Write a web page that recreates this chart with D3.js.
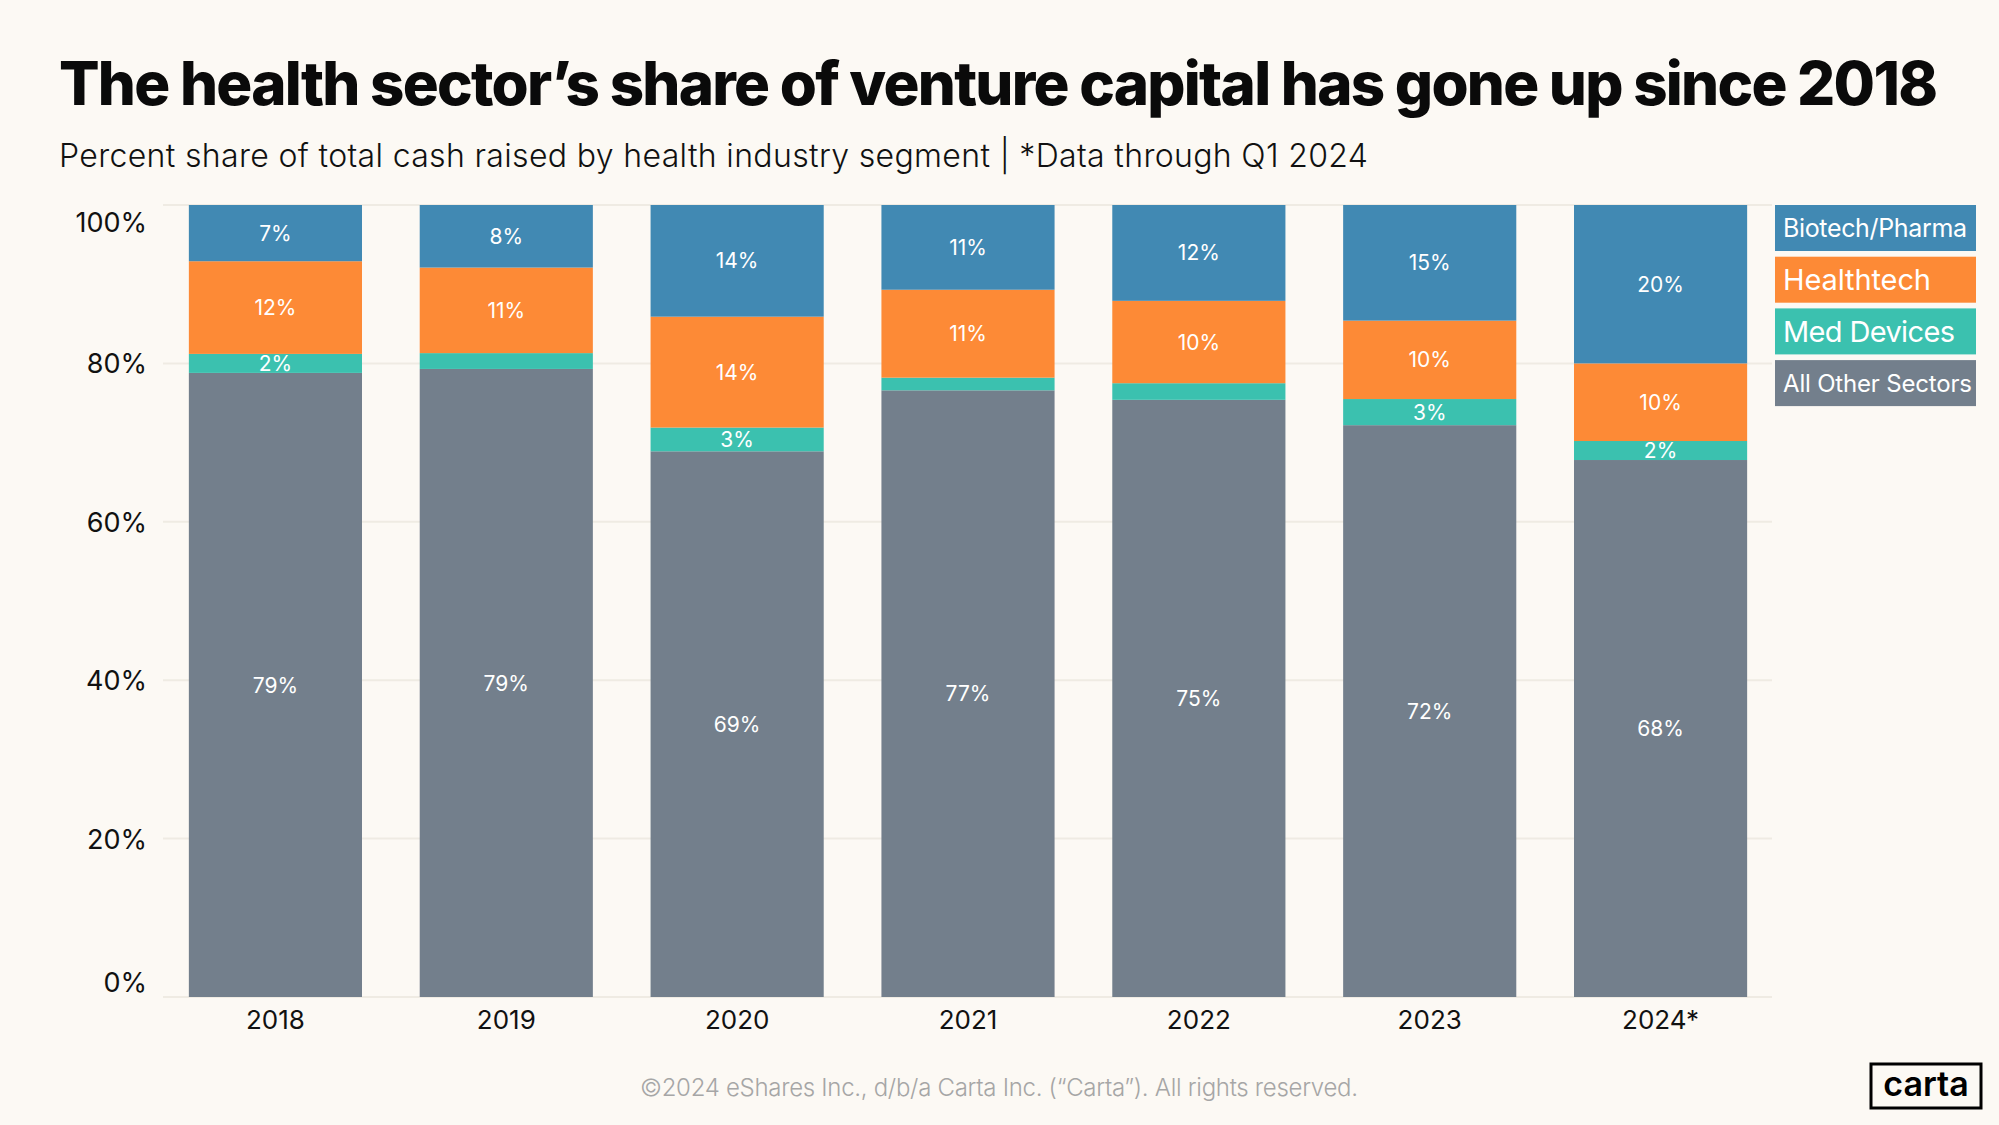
<!DOCTYPE html>
<html><head><meta charset="utf-8">
<script src="https://cdn.jsdelivr.net/npm/d3@7"></script>
<style>
html,body{margin:0;padding:0;background:#fcf9f4;}
svg{display:block;}
</style></head>
<body>
<svg id="chart" width="1999" height="1125"></svg>
<script>
const years = ["2018","2019","2020","2021","2022","2023","2024*"];
const otherSectors = [78.8, 79.3, 68.9, 76.6, 75.4, 72.2, 67.8];
const medDevices   = [2.4, 2.0, 3.0, 1.6, 2.1, 3.3, 2.4];
const healthtech   = [11.7, 10.8, 14.0, 11.1, 10.4, 9.9, 9.8];
const biotech      = [7.1, 7.9, 14.1, 10.7, 12.1, 14.6, 20.0];
const seriesNames  = ["All Other Sectors","Med Devices","Healthtech","Biotech/Pharma"];
const yTicks = [0, 20, 40, 60, 80, 100];
const titleText = "The health sector’s share of venture capital has gone up since 2018";
const subtitleText = "Percent share of total cash raised by health industry segment | *Data through Q1 2024";
const footerText = "©2024 eShares Inc., d/b/a Carta Inc. (“Carta”). All rights reserved.";

const colors = {"All Other Sectors":"#737f8c","Med Devices":"#3bc1af","Healthtech":"#fd8a36","Biotech/Pharma":"#4189b3"};
const FONT = "Inter, Lato, 'Noto Sans', sans-serif";

const svg = d3.select("#chart");
svg.append("rect").attr("width",1999).attr("height",1125).attr("fill","#fcf9f4");

function fitSpacing(sel, target){
  const n = sel.text().length;
  const w = sel.node().getComputedTextLength();
  sel.attr("letter-spacing", ((target - w)/(n-1)).toFixed(3));
}

// Title
const title = svg.append("text").attr("x",59).attr("y",105)
  .attr("font-family",FONT).attr("font-weight",800).attr("font-size",60)
  .attr("fill","#0a0a0a").text(titleText);
fitSpacing(title, 1879);

const sub = svg.append("text").attr("x",59).attr("y",167)
  .attr("font-family",FONT).attr("font-weight",300).attr("font-size",32)
  .attr("fill","#111").text(subtitleText);
fitSpacing(sub, 1309);

// data table
const table = years.map((y,i)=>({year:y,
  "All Other Sectors":otherSectors[i],"Med Devices":medDevices[i],
  "Healthtech":healthtech[i],"Biotech/Pharma":biotech[i]}));
const stacked = d3.stack().keys(seriesNames)(table);

const x = d3.scaleBand().domain(years).range([160,1776]).paddingInner(0.25).paddingOuter(0.125);
const y = d3.scaleLinear().domain([0,100]).range([997,205]);

// gridlines
svg.append("g").selectAll("line").data(yTicks).join("line")
  .attr("x1",163).attr("x2",1772)
  .attr("y1",d=>y(d)).attr("y2",d=>y(d))
  .attr("stroke","#efebe3").attr("stroke-width",2);

// y axis
const yAxis = svg.append("g").attr("transform","translate(160,0)")
  .call(d3.axisLeft(y).tickValues(yTicks).tickFormat(d=>d+"%").tickSize(0).tickPadding(13));
yAxis.select(".domain").remove();
yAxis.selectAll("text").attr("font-family",FONT).attr("font-size",27).attr("fill","#111")
  .attr("dy", d => d===100 ? "0.98em" : d===0 ? "-0.2em" : "0.35em");

// x axis
const xAxis = svg.append("g").attr("transform","translate(0,997)")
  .call(d3.axisBottom(x).tickSize(0).tickPadding(14));
xAxis.select(".domain").remove();
xAxis.selectAll("text").attr("font-family",FONT).attr("font-size",26).attr("fill","#111");

// bars
const groups = svg.append("g").selectAll("g").data(stacked).join("g")
  .attr("fill",d=>colors[d.key]);
groups.selectAll("rect").data(d=>d).join("rect")
  .attr("x",d=>x(d.data.year)).attr("width",x.bandwidth())
  .attr("y",d=>y(d[1])).attr("height",d=>y(d[0])-y(d[1]));

// value labels
const labels = svg.append("g");
stacked.forEach(s=>{
  s.forEach(d=>{
    const v = d[1]-d[0];
    if (v < 2.3) return;
    labels.append("text")
      .attr("x", x(d.data.year)+x.bandwidth()/2)
      .attr("y", (y(d[0])+y(d[1]))/2)
      .attr("dy","0.36em").attr("text-anchor","middle")
      .attr("font-family",FONT).attr("font-size",21).attr("fill","#fff")
      .text(Math.round(v)+"%");
  });
});

// legend
const legendOrder = ["Biotech/Pharma","Healthtech","Med Devices","All Other Sectors"];
const legendSizes = {"Biotech/Pharma":25,"Healthtech":29,"Med Devices":29,"All Other Sectors":24};
const legendWidths = {"Biotech/Pharma":184,"Healthtech":148,"Med Devices":172,"All Other Sectors":189};
const lg = svg.append("g");
legendOrder.forEach((k,i)=>{
  const top = 205 + i*51.7;
  lg.append("rect").attr("x",1775).attr("y",top).attr("width",201).attr("height",46).attr("fill",colors[k]);
  const t = lg.append("text").attr("x",1783).attr("y",top+23).attr("dy","0.36em")
    .attr("font-family",FONT).attr("font-size",legendSizes[k]).attr("fill","#fff").text(k);
  fitSpacing(t, legendWidths[k]);
});

// footer
const foot = svg.append("text").attr("x",640).attr("y",1096)
  .attr("font-family",FONT).attr("font-weight",300).attr("font-size",24)
  .attr("fill","#a6a6a6").text(footerText);
fitSpacing(foot, 718);

// logo
svg.append("rect").attr("x",1871).attr("y",1064).attr("width",110).attr("height",44)
  .attr("fill","none").attr("stroke","#000").attr("stroke-width",3);
svg.append("text").attr("x",1926).attr("y",1096).attr("text-anchor","middle")
  .attr("font-family",FONT).attr("font-weight",600).attr("font-size",34)
  .attr("fill","#000").text("carta");
</script>
</body></html>
